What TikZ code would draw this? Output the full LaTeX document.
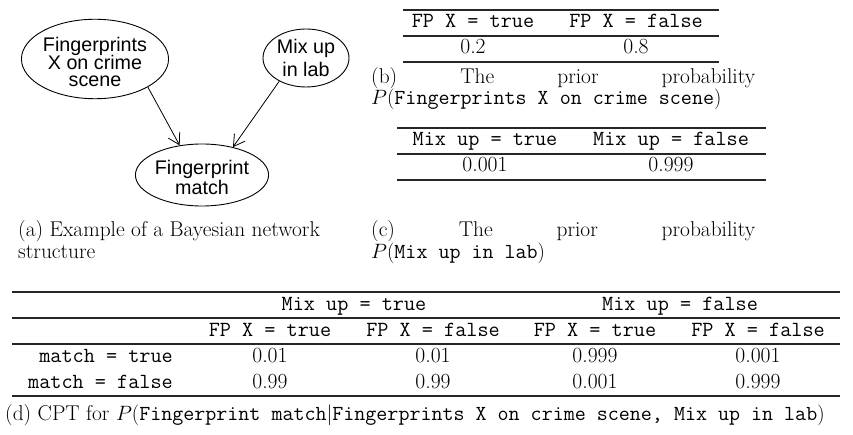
\documentclass[tikz,border=0pt]{standalone}
\usepackage{fontspec}
\newfontfamily\nodefont{Liberation Sans}
\newcommand\tightlines{\lineskiplimit=-50pt\relax}
\usetikzlibrary{arrows.meta,shapes.geometric}
\tikzset{
  bnode/.style={ellipse, draw, line width=0.9pt, inner sep=0pt, align=center},
  arr/.style={line width=0.8pt, -{Straight Barb[length=11pt,width=13pt,line width=0.8pt]}},
  ttx/.style={font=\fontsize{21.6}{26}\selectfont\ttfamily, inner sep=0pt, anchor=base},
  numx/.style={font=\fontsize{21.6}{26}\selectfont, inner sep=0pt, anchor=base},
  capx/.style={font=\fontsize{21.4}{26}\selectfont, inner sep=0pt, anchor=base west},
  tabrule/.style={line width=1.1pt, draw=black!85},
}
\begin{document}
\begin{tikzpicture}[x=1pt,y=-1pt]
\useasboundingbox[fill=white] (0,0) rectangle (853,435);

% (a) Bayesian network
\node[bnode, minimum width=137pt, minimum height=73pt,
  font=\nodefont\fontsize{19.7}{17.5}\selectfont\tightlines] (e1) at (95,59)
  {\rule{0pt}{21pt}Fingerprints\\X on crime\\scene};
\node[bnode, minimum width=86pt, minimum height=58pt,
  font=\nodefont\fontsize{19.7}{23.5}\selectfont\tightlines] (e2) at (306,58)
  {Mix up\\in lab};
\node[bnode, minimum width=126pt, minimum height=62pt,
  font=\nodefont\fontsize{19.7}{20}\selectfont\tightlines] (e3) at (202,175)
  {\rule{0pt}{19pt}Fingerprint\\match};
\draw[arr] (e1.-28) -- (e3.127);
\draw[arr] (e2.-139) -- (e3.42);

\node[capx] (capa1) at (18,237) {(a) Example of a Bayesian network};
\node[capx] (capa2) at (18,259) {structure};

% (b) prior of FP
\draw[tabrule] (403,10) -- (719,10);
\draw[tabrule] (403,36) -- (719,36);
\draw[tabrule] (403,62) -- (719,62);
\node[ttx] (bh1) at (473,28) {FP X = true};
\node[ttx] (bh2) at (636,28) {FP X = false};
\node[numx] (bv1) at (473,54) {0.2};
\node[numx] (bv2) at (636,54) {0.8};
\node[capx] (capb1) at (371,83.5) {\makebox[384pt][s]{(b) The prior probability}};
\node[capx] (capb2) at (371,105) {$P(\texttt{Fingerprints X on crime scene})$};

% (c) prior of mix up
\draw[tabrule] (397,128) -- (766,128);
\draw[tabrule] (397,154) -- (766,154);
\draw[tabrule] (397,180) -- (766,180);
\node[ttx] (ch1) at (485,146) {Mix up = true};
\node[ttx] (ch2) at (671,146) {Mix up = false};
\node[numx] (cv1) at (485,172) {0.001};
\node[numx] (cv2) at (671,172) {0.999};
\node[capx] (capc1) at (371,237) {\makebox[384pt][s]{(c) The prior probability}};
\node[capx] (capc2) at (371,259) {$P(\texttt{Mix up in lab})$};

% (d) CPT
\draw[tabrule] (12,292) -- (840,292);
\draw[tabrule] (12,318) -- (840,318);
\draw[tabrule] (12,344) -- (840,344);
\draw[tabrule] (12,396) -- (840,396);
\node[ttx] (dm1) at (354,310) {Mix up = true};
\node[ttx] (dm2) at (680,310) {Mix up = false};
\node[ttx] (df1) at (270,336) {FP X = true};
\node[ttx] (df2) at (433,336) {FP X = false};
\node[ttx] (df3) at (595,336) {FP X = true};
\node[ttx] (df4) at (758,336) {FP X = false};
\node[ttx, anchor=base east] (dr1) at (173,362) {match = true};
\node[ttx, anchor=base east] (dr2) at (173,388) {match = false};
\node[numx] (v11) at (270,362) {0.01};
\node[numx] (v12) at (433,362) {0.01};
\node[numx] (v13) at (595,362) {0.999};
\node[numx] (v14) at (758,362) {0.001};
\node[numx] (v21) at (270,388) {0.99};
\node[numx] (v22) at (433,388) {0.99};
\node[numx] (v23) at (595,388) {0.001};
\node[numx] (v24) at (758,388) {0.999};
\node[capx] (capd) at (5,420) {(d) CPT for $P(\texttt{Fingerprint match}|\texttt{Fingerprints X on crime scene, Mix up in lab})$};
\end{tikzpicture}
\end{document}
